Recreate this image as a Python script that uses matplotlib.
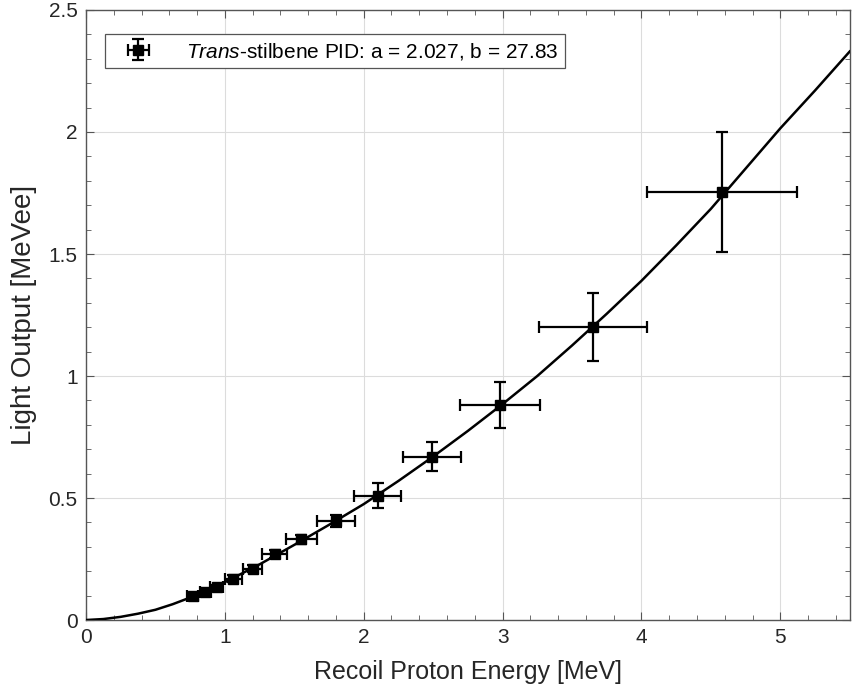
import matplotlib.pyplot as plt
from matplotlib.ticker import MultipleLocator, FormatStrFormatter

plt.rcParams['font.family'] = ['Liberation Sans', 'DejaVu Sans']
plt.rcParams['mathtext.fontset'] = 'custom'
plt.rcParams['mathtext.it'] = 'Liberation Sans:italic'
plt.rcParams['mathtext.rm'] = 'Liberation Sans'

# measured points (recoil proton energy, light output) with uncertainties
energy = [0.77, 0.86, 0.94, 1.06, 1.20, 1.36, 1.55, 1.80, 2.10, 2.49, 2.98, 3.65, 4.58]
light = [0.100, 0.115, 0.135, 0.170, 0.210, 0.270, 0.330, 0.405, 0.510, 0.670, 0.880, 1.200, 1.755]
energy_err = [0.04, 0.04, 0.05, 0.06, 0.07, 0.09, 0.11, 0.14, 0.17, 0.21, 0.29, 0.39, 0.54]
light_err = [0.008, 0.008, 0.010, 0.013, 0.015, 0.016, 0.020, 0.025, 0.050, 0.060, 0.095, 0.140, 0.245]

# fitted curve
fit_e = [0, 0.125, 0.25, 0.375, 0.5, 0.625, 0.75, 1, 1.25, 1.5, 1.75, 2, 2.25, 2.5,
         2.75, 3, 3.25, 3.5, 3.75, 4, 4.25, 4.5, 4.75, 5, 5.25, 5.5]
fit_l = [0, 0.004, 0.013, 0.026, 0.042, 0.065, 0.092, 0.155, 0.228, 0.308, 0.39,
         0.475, 0.57, 0.67, 0.775, 0.885, 1.0, 1.125, 1.255, 1.39, 1.535, 1.685,
         1.85, 2.015, 2.17, 2.33]

fig = plt.figure(figsize=(8.54, 6.94), dpi=100)
ax = fig.add_axes([0.1007, 0.1066, 0.8943, 0.879])

ax.plot(fit_e, fit_l, color='black', lw=1.8, zorder=3)
ax.errorbar(energy, light, xerr=energy_err, yerr=light_err, fmt='s', color='black',
            ms=6.5, elinewidth=1.6, capsize=4, capthick=1.6, zorder=4,
            label=r'$\it{Trans}$-stilbene PID: a = 2.027, b = 27.83')

ax.set_xlim(0, 5.5)
ax.set_ylim(0, 2.5)
ax.xaxis.set_major_locator(MultipleLocator(1))
ax.xaxis.set_minor_locator(MultipleLocator(0.2))
ax.yaxis.set_major_locator(MultipleLocator(0.5))
ax.yaxis.set_minor_locator(MultipleLocator(0.1))
ax.yaxis.set_major_formatter(FormatStrFormatter('%g'))
ax.tick_params(which='both', direction='in', top=True, right=True, labelsize=15,
               color='#555555', labelcolor='#262626')
ax.tick_params(which='major', length=6, pad=6)
ax.tick_params(which='minor', length=3.5)
ax.grid(True, which='major', color='#dcdcdc', lw=0.8)
ax.set_axisbelow(True)
for s in ax.spines.values():
    s.set_color('#555555')
    s.set_linewidth(1.0)

ax.set_xlabel('Recoil Proton Energy [MeV]', fontsize=18, color='#262626', labelpad=9)
ax.set_ylabel('Light Output [MeVee]', fontsize=20, color='#262626', labelpad=8)

leg = ax.legend(loc='upper left', bbox_to_anchor=(0.011, 0.977), fontsize=15,
                fancybox=False, framealpha=1, edgecolor='#555555',
                borderpad=0.3, handlelength=2.6, handletextpad=1.0)
leg.get_frame().set_linewidth(0.9)

fig.savefig('out.png', dpi=100)
